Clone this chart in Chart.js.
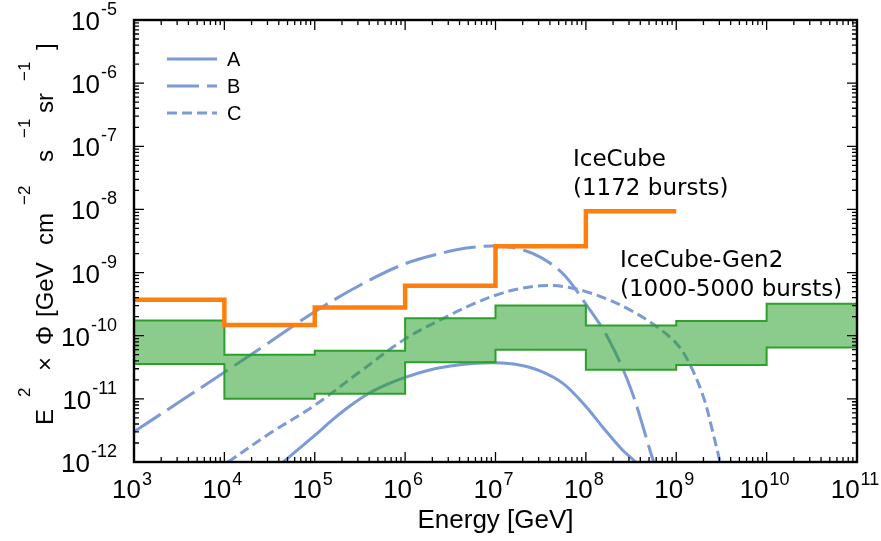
<!DOCTYPE html>
<html>
<head>
<meta charset="utf-8">
<script src="https://cdn.jsdelivr.net/npm/chart.js@4.4.0/dist/chart.umd.min.js"></script>
<style>
  html, body { margin: 0; padding: 0; background: #fff; }
</style>
</head>
<body>
<canvas id="myChart" width="881" height="541"></canvas>
<script>
// tick labels (powers of ten)
const xTickExponents = [3, 4, 5, 6, 7, 8, 9, 10, 11];
const yTickExponents = [-12, -11, -10, -9, -8, -7, -6, -5];

// IceCube (1172 bursts) upper limit, one value per energy decade
const icecubeEdges = [1e3, 1e4, 1e5, 1e6, 1e7, 1e8, 1e9];
const icecubeFlux = [3.7e-10, 1.48e-10, 2.8e-10, 6.2e-10, 2.6e-9, 9.4e-9];

// IceCube-Gen2 (1000-5000 bursts) band
const gen2Edges = [1e3, 1e4, 1e5, 1e6, 1e7, 1e8, 1e9, 1e10, 1e11];
const gen2Upper = [1.74e-10, 5.0e-11, 5.8e-11, 1.89e-10, 3.0e-10, 1.45e-10, 1.71e-10, 3.2e-10];
const gen2Lower = [3.57e-11, 1.0e-11, 1.2e-11, 3.8e-11, 6.0e-11, 2.9e-11, 3.44e-11, 6.5e-11];

// model curves
const seriesNames = ['A', 'B', 'C'];
const curveAEnergy = [2.51e4, 3.98e4, 6.31e4, 1e5, 1.58e5, 2.51e5, 3.98e5, 6.31e5, 1e6, 1.78e6, 3.16e6, 5.62e6, 1e7, 1.78e7, 3.16e7, 5.62e7, 1e8, 1.58e8, 2.51e8, 3.55e8, 5.01e8];
const curveAFlux = [4.9e-13, 8.7e-13, 1.51e-12, 2.63e-12, 4.68e-12, 7.9e-12, 1.23e-11, 1.70e-11, 2.19e-11, 2.82e-11, 3.31e-11, 3.63e-11, 3.72e-11, 3.47e-11, 2.75e-11, 1.74e-11, 7.6e-12, 3.4e-12, 1.58e-12, 1.0e-12, 5.6e-13];
const curveBEnergy = [1e3, 3.16e3, 1e4, 3.16e4, 1e5, 3.16e5, 1e6, 3.16e6, 5.62e6, 1e7, 1.78e7, 3.16e7, 5.62e7, 1e8, 1.78e8, 3.16e8, 5.62e8, 7.08e8];
const curveBFlux = [3.02e-12, 8.9e-12, 2.63e-11, 7.9e-11, 2.4e-10, 6.3e-10, 1.38e-9, 2.19e-9, 2.51e-9, 2.63e-9, 2.4e-9, 1.74e-9, 9.5e-10, 3.16e-10, 8.9e-11, 1.41e-11, 1.0e-12, 4e-13];
const curveCEnergy = [7.94e3, 1e4, 3.16e4, 1e5, 3.16e5, 1e6, 3.16e6, 5.62e6, 1e7, 1.78e7, 3.16e7, 5.62e7, 1e8, 1.78e8, 3.16e8, 5.62e8, 1e9, 1.41e9, 2e9, 2.51e9, 3.02e9, 3.55e9];
const curveCFlux = [7.4e-13, 9.1e-13, 2.82e-12, 7.9e-12, 2.69e-11, 8.9e-11, 2.14e-10, 3.16e-10, 4.37e-10, 5.5e-10, 6.17e-10, 6.03e-10, 5.0e-10, 3.72e-10, 2.51e-10, 1.51e-10, 7.6e-11, 3.55e-11, 1.07e-11, 3.16e-12, 1.07e-12, 4e-13];

const blue = '#7b9ad6';
const dashes = [[], [32, 8], [10, 5]];

const stepPoints = (edges, vals) => edges.map((x, i) => ({x, y: vals[Math.min(i, vals.length - 1)]}));
const curvePoints = (xs, ys) => xs.map((x, i) => ({x, y: ys[i]}));

const curveSets = [
  [curveAEnergy, curveAFlux],
  [curveBEnergy, curveBFlux],
  [curveCEnergy, curveCFlux]
].map(([xs, ys], i) => ({
  label: seriesNames[i],
  data: curvePoints(xs, ys),
  borderColor: blue,
  borderWidth: 3,
  borderDash: dashes[i],
  pointRadius: 0,
  tension: 0.35,
  fill: false,
  order: 4
}));

const datasets = [
  {
    label: 'IceCube',
    data: stepPoints(icecubeEdges, icecubeFlux),
    stepped: true,
    borderColor: '#ff7f0e',
    borderWidth: 4.5,
    pointRadius: 0,
    fill: false,
    order: 1
  },
  {
    label: 'Gen2 low',
    data: stepPoints(gen2Edges, gen2Lower),
    stepped: true,
    borderColor: '#2ca02c',
    borderWidth: 2,
    pointRadius: 0,
    fill: false,
    order: 2
  },
  {
    label: 'Gen2 high',
    data: stepPoints(gen2Edges, gen2Upper),
    stepped: true,
    borderColor: '#2ca02c',
    backgroundColor: 'rgba(44,160,44,0.55)',
    borderWidth: 2,
    pointRadius: 0,
    fill: '-1',
    order: 3
  },
  ...curveSets
];

const labelFont = '"Liberation Sans", Arial, sans-serif';

// draws 10^n with the exponent raised
function powText(ctx, n, left, base, supBase) {
  ctx.font = '26px ' + labelFont;
  ctx.fillText('10', left, base);
  const w = ctx.measureText('10').width;
  ctx.font = '18px ' + labelFont;
  ctx.fillText(String(n), left + w + 1, supBase);
}
function powWidth(ctx, n) {
  ctx.font = '26px ' + labelFont;
  const w = ctx.measureText('10').width;
  ctx.font = '18px ' + labelFont;
  return w + 1 + ctx.measureText(String(n)).width;
}

// y title pieces: text, superscript?, offset along the axis from the bottom end
const yTitleParts = [
  ['E', 0, 0], ['2', 1, 28], ['\u00d7', 0, 54], ['\u03a6', 0, 80], ['[GeV', 0, 108], ['cm', 0, 180],
  ['\u22122', 1, 220], ['s', 0, 263], ['\u22121', 1, 287], ['sr', 0, 312], ['\u22121', 1, 344], [']', 0, 375]
];

const decor = {
  id: 'decor',
  afterDatasetsDraw(chart) {
    const {ctx, chartArea: a, scales: {x, y}} = chart;
    ctx.save();
    ctx.strokeStyle = '#000';
    ctx.lineWidth = 1.3;
    ctx.beginPath();
    for (const e of xTickExponents) {
      for (let m = 1; m < 10; m++) {
        const v = m * Math.pow(10, e);
        if (v > x.max * 1.0001) break;
        const px = x.getPixelForValue(v);
        const len = m === 1 ? 10 : 5;
        ctx.moveTo(px, a.bottom); ctx.lineTo(px, a.bottom - len);
        ctx.moveTo(px, a.top); ctx.lineTo(px, a.top + len);
      }
    }
    for (const e of yTickExponents) {
      for (let m = 1; m < 10; m++) {
        const v = m * Math.pow(10, e);
        if (v > y.max * 1.0001) break;
        const py = y.getPixelForValue(v);
        const len = m === 1 ? 10 : 5;
        ctx.moveTo(a.left, py); ctx.lineTo(a.left + len, py);
        ctx.moveTo(a.right, py); ctx.lineTo(a.right - len, py);
      }
    }
    ctx.stroke();
    ctx.lineWidth = 2.4;
    ctx.strokeRect(a.left, a.top, a.right - a.left, a.bottom - a.top);

    // tick labels
    ctx.fillStyle = '#000';
    ctx.textBaseline = 'alphabetic';
    ctx.textAlign = 'left';
    for (const e of xTickExponents) {
      const px = x.getPixelForValue(Math.pow(10, e));
      const w = powWidth(ctx, e);
      powText(ctx, e, px - w / 2 - 2, 498, 485);
    }
    for (const e of yTickExponents) {
      const py = y.getPixelForValue(Math.pow(10, e));
      const w = powWidth(ctx, e);
      powText(ctx, e, 117 - w, py + 10, py - 5);
    }

    // axis titles
    ctx.font = '26px ' + labelFont;
    ctx.textAlign = 'center';
    ctx.fillText('Energy [GeV]', (a.left + a.right) / 2, 528);

    ctx.save();
    ctx.translate(53, 425);
    ctx.rotate(-Math.PI / 2);
    ctx.textAlign = 'left';
    for (const [t, s, off] of yTitleParts) {
      ctx.font = (s ? '17px ' : '24px ') + labelFont;
      ctx.fillText(t, off, s ? -23 : 0);
    }
    ctx.restore();

    // legend
    ctx.textAlign = 'left';
    ctx.lineWidth = 3;
    ctx.strokeStyle = blue;
    seriesNames.forEach((name, i) => {
      const ly = 59 + i * 27;
      ctx.setLineDash(dashes[i]);
      ctx.beginPath();
      ctx.moveTo(167, ly); ctx.lineTo(217, ly);
      ctx.stroke();
      ctx.setLineDash([]);
      ctx.font = '20px ' + labelFont;
      ctx.fillStyle = '#000';
      ctx.fillText(name, 227, ly + 7);
    });

    // annotations
    ctx.font = '23px "DejaVu Sans", sans-serif';
    ctx.fillText('IceCube', 573, 166);
    ctx.fillText('(1172 bursts)', 573, 195);
    ctx.fillText('IceCube-Gen2', 620, 267);
    ctx.fillText('(1000-5000 bursts)', 620, 296);
    ctx.restore();
  }
};

new Chart(document.getElementById('myChart'), {
  type: 'line',
  data: {datasets},
  options: {
    responsive: false,
    animation: false,
    layout: {padding: {left: 134, right: 24, top: 20, bottom: 79}},
    plugins: {legend: {display: false}, tooltip: {enabled: false}},
    scales: {
      x: {type: 'logarithmic', min: 1e3, max: 1e11, display: false},
      y: {type: 'logarithmic', min: 1e-12, max: 1e-5, display: false}
    }
  },
  plugins: [decor]
});
</script>
</body>
</html>
